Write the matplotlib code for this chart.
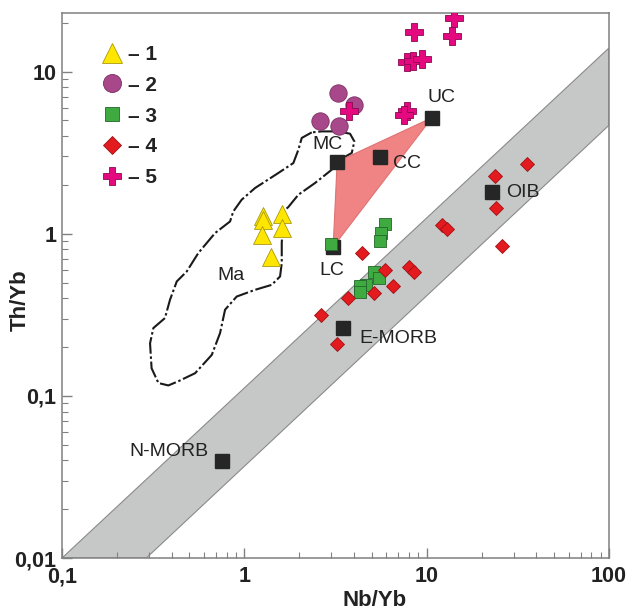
import matplotlib
matplotlib.use('Agg')
import matplotlib.pyplot as plt
from matplotlib.ticker import FixedLocator, FixedFormatter, LogLocator, NullFormatter

plt.rcParams['font.family'] = ['Liberation Sans', 'DejaVu Sans']

# ---------------- data (Nb/Yb, Th/Yb) ----------------
g1_nb = [1.26, 1.27, 1.25, 1.60, 1.60, 1.40]
g1_th = [1.28, 1.21, 0.98, 1.32, 1.08, 0.72]

g2_nb = [3.25, 4.01, 2.60, 3.31]
g2_th = [7.39, 6.25, 4.93, 4.59]

g3_nb = [5.91, 5.59, 5.57, 2.99, 5.15, 5.50, 4.65, 4.31, 4.31]
g3_th = [1.15, 1.01, 0.905, 0.867, 0.585, 0.535, 0.481, 0.475, 0.44]

g4_nb = [35.7, 23.6, 24.0, 25.9, 12.1, 13.0, 4.41, 5.91, 8.05, 8.53, 6.57, 5.15, 3.72, 2.64, 3.21]
g4_th = [2.70, 2.26, 1.44, 0.835, 1.14, 1.07, 0.758, 0.60, 0.628, 0.585, 0.474, 0.43, 0.403, 0.316, 0.208]

g5_nb = [14.2, 13.7, 8.53, 7.78, 8.45, 9.47, 7.84, 7.52, 3.77]
g5_th = [21.4, 16.5, 17.6, 11.4, 11.7, 12.0, 5.69, 5.43, 5.69]

legend_labels = ['\u2013 1', '\u2013 2', '\u2013 3', '\u2013 4', '\u2013 5']

ref_names = ['N-MORB', 'E-MORB', 'OIB', 'UC', 'MC', 'CC', 'LC']
ref_nb = [0.755, 3.47, 22.9, 10.7, 3.23, 5.55, 3.07]
ref_th = [0.0397, 0.262, 1.80, 5.2, 2.78, 2.99, 0.83]

# MORB-OIB array (band)
band_nb = [0.1, 100, 100, 0.29]
band_th = [0.01, 14.0, 4.67, 0.01]

# Ma field outline
ma_nb = [2.343, 2.065, 1.979, 1.857, 1.536, 1.145, 0.967, 0.870, 0.835, 0.691,
         0.559, 0.483, 0.426, 0.391, 0.367, 0.317, 0.304, 0.310, 0.338, 0.383,
         0.434, 0.537, 0.663, 0.736, 0.784, 0.908, 1.145, 1.413, 1.570, 1.604,
         1.604, 1.636, 1.743, 1.979, 2.442, 3.016, 3.214, 3.883, 4.012, 3.800,
         3.279, 2.658, 2.343]
ma_th = [4.22, 3.90, 3.30, 2.73, 2.37, 1.915, 1.622, 1.373, 1.191, 1.010,
         0.760, 0.585, 0.508, 0.391, 0.302, 0.262, 0.211, 0.148, 0.120, 0.116,
         0.123, 0.138, 0.179, 0.244, 0.340, 0.410, 0.451, 0.484, 0.545, 0.659,
         0.876, 1.373, 1.462, 1.741, 2.056, 2.484, 2.795, 3.15, 3.71, 4.14,
         4.28, 4.28, 4.22]
ma_label_pos = (0.846, 0.55)

# ---------------- figure ----------------
fig = plt.figure(figsize=(6.27, 6.11), dpi=100)
ax = fig.add_axes([62/627, 53/611, 547/627, 545/611])
ax.set_xscale('log')
ax.set_yscale('log')
ax.set_xlim(0.1, 100)
ax.set_ylim(0.01, 23)

ax.fill(band_nb, band_th, facecolor='#c6c7c7', edgecolor='#8a8a8a', lw=0.8, zorder=1)

ax.plot(ma_nb, ma_th, color='#1a1a1a', lw=1.5, ls=(0, (8, 1.3, 1.2, 1.3)), zorder=2)
ax.text(ma_label_pos[0], ma_label_pos[1], 'Ma', fontsize=14, ha='center', va='center',
        color='#222222', zorder=2)

tri_idx = [ref_names.index(n) for n in ['UC', 'MC', 'LC']]
ax.fill([ref_nb[i] for i in tri_idx], [ref_th[i] for i in tri_idx],
        facecolor='#f08484', edgecolor='#e07272', lw=0.8, zorder=3)

ax.plot(ref_nb, ref_th, ls='none', marker='s', ms=10, mfc='#262626', mec='#262626', zorder=4)

offsets = {'N-MORB': (-14, 9, 'right'), 'E-MORB': (17, -10, 'left'), 'OIB': (31, 0, 'center'),
           'UC': (9, 20, 'center'), 'MC': (-10, 17, 'center'), 'CC': (27, -7, 'center'),
           'LC': (-1, -24, 'center')}
for n, x, y in zip(ref_names, ref_nb, ref_th):
    dx, dy, ha = offsets[n]
    ax.annotate(n, (x, y), xytext=(dx, dy), textcoords='offset pixels', ha=ha, va='center',
                fontsize=14, color='#222222', zorder=6)

h1, = ax.plot(g1_nb, g1_th, ls='none', marker='^', ms=13, mfc='#ffe600', mec='#a89a10', mew=0.6, zorder=5)
h2, = ax.plot(g2_nb, g2_th, ls='none', marker='o', ms=12.5, mfc='#a8488a', mec='#7a2f62', mew=0.6, zorder=5)
h3, = ax.plot(g3_nb, g3_th, ls='none', marker='s', ms=8.5, mfc='#3faa3f', mec='#22662a', mew=0.6, zorder=5)
h4, = ax.plot(g4_nb, g4_th, ls='none', marker='D', ms=7.5, mfc='#e31b1f', mec='#a01015', mew=0.6, zorder=5)
h5, = ax.plot(g5_nb, g5_th, ls='none', marker='P', ms=13, mfc='#e5097f', mec='#8a0a50', mew=0.6, zorder=6)

leg = ax.legend([h1, h2, h3, h4, h5], legend_labels, loc='upper left',
                bbox_to_anchor=(0.038, 0.976), frameon=False, numpoints=1,
                handlelength=1.0, handletextpad=0.27, labelspacing=0.57,
                prop={'size': 15, 'weight': 'bold'})
for t in leg.get_texts():
    t.set_color('#222222')
leg.legend_handles[0].set_markersize(15)
leg.legend_handles[1].set_markersize(13)
leg.legend_handles[2].set_markersize(10)
leg.legend_handles[3].set_markersize(9.5)
leg.legend_handles[4].set_markersize(13)

# ---------------- axes styling ----------------
for s in ax.spines.values():
    s.set_color('#808080')
    s.set_linewidth(1.1)

ax.xaxis.set_major_locator(FixedLocator([0.1, 1, 10, 100]))
ax.xaxis.set_major_formatter(FixedFormatter(['0,1', '1', '10', '100']))
ax.yaxis.set_major_locator(FixedLocator([0.01, 0.1, 1, 10]))
ax.yaxis.set_major_formatter(FixedFormatter(['0,01', '0,1', '1', '10']))
ax.xaxis.set_minor_locator(LogLocator(base=10, subs=range(2, 10), numticks=20))
ax.yaxis.set_minor_locator(LogLocator(base=10, subs=range(2, 10), numticks=20))
ax.xaxis.set_minor_formatter(NullFormatter())
ax.yaxis.set_minor_formatter(NullFormatter())
ax.tick_params(which='both', direction='in', color='#808080', top=False, right=False)
ax.tick_params(which='major', length=7, width=1)
ax.tick_params(which='minor', length=4, width=0.8)
ax.tick_params(axis='x', which='major', pad=6)
ax.tick_params(axis='y', which='major', pad=4)
for lab in ax.get_xticklabels() + ax.get_yticklabels():
    lab.set_fontsize(15.5)
    lab.set_fontweight('bold')
    lab.set_color('#222222')

ax.set_xlabel('Nb/Yb', fontsize=16, fontweight='bold', color='#222222')
ax.set_ylabel('Th/Yb', fontsize=16, fontweight='bold', color='#222222')
ax.xaxis.set_label_coords(0.572, -0.058)
ax.yaxis.set_label_coords(-0.058, 0.473)

fig.savefig('out.png', dpi=100)
